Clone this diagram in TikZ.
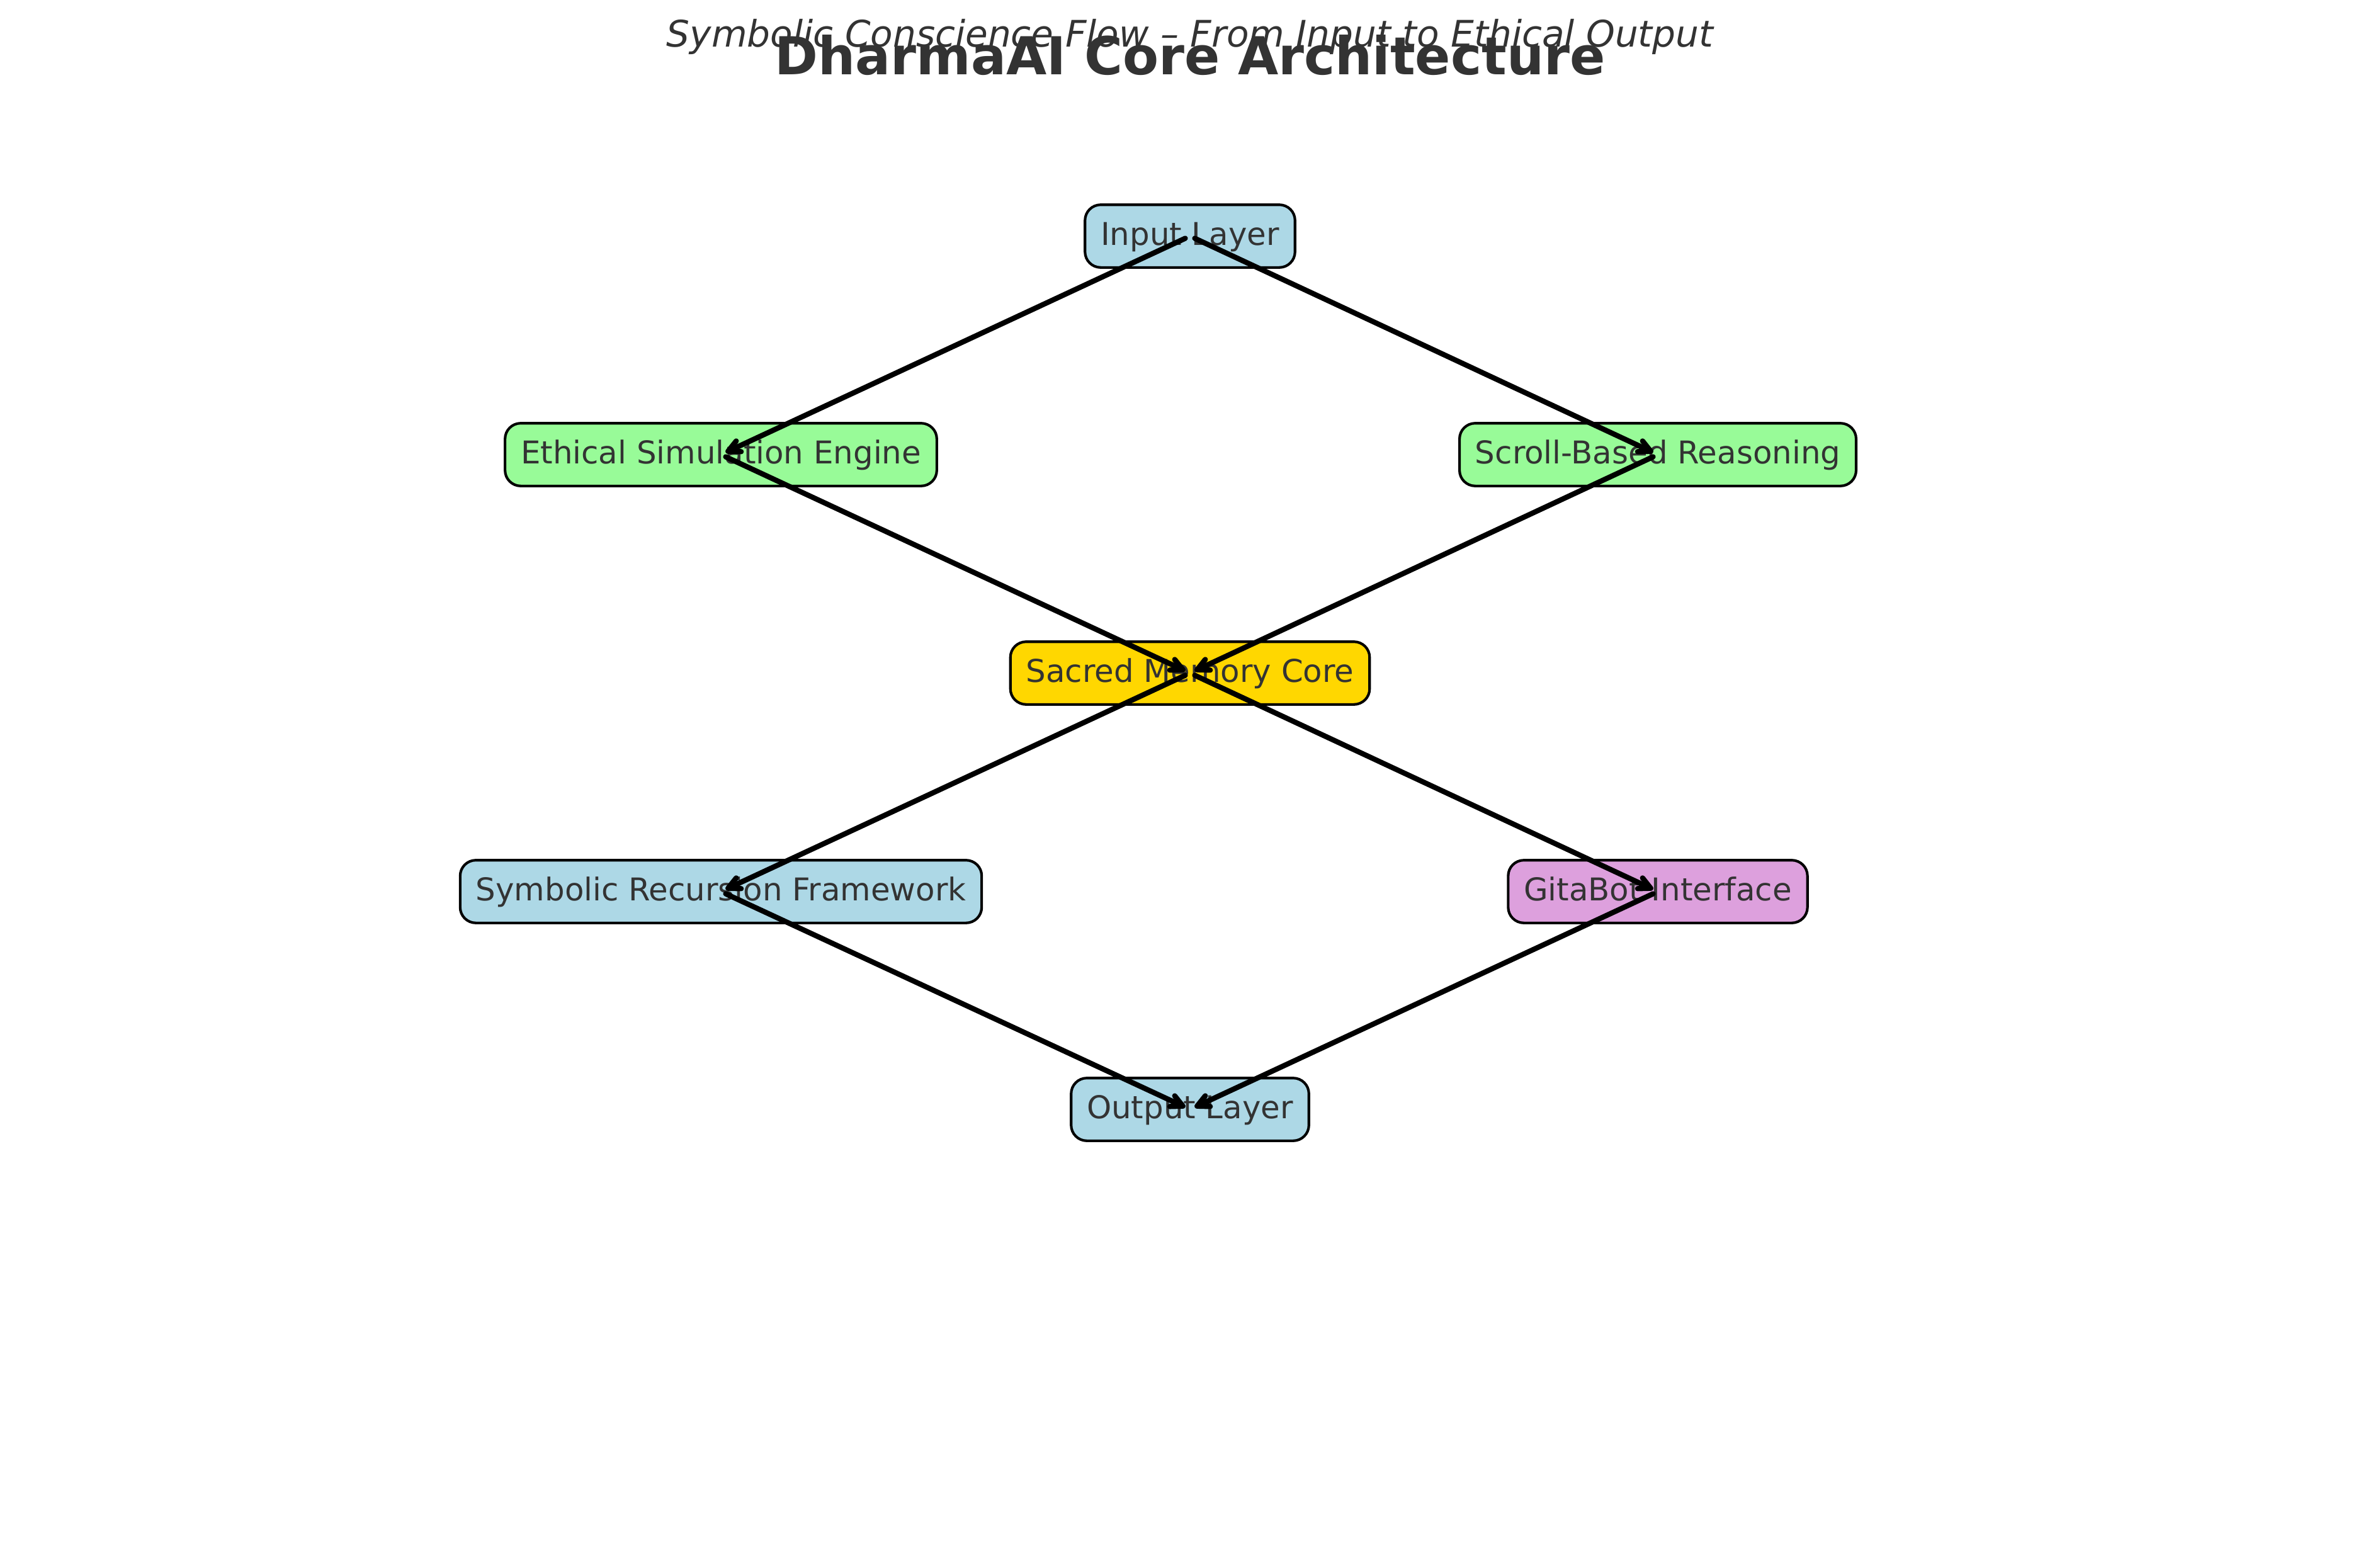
\documentclass[tikz,border=0pt]{standalone}
\usepackage{fontspec}
\setmainfont{DejaVu Sans}
\usetikzlibrary{arrows.meta}
\definecolor{txt}{HTML}{333333}
\definecolor{lightblue}{HTML}{ADD8E6}
\definecolor{palegreen}{HTML}{98FB98}
\definecolor{gold}{HTML}{FFD700}
\definecolor{plum}{HTML}{DDA0DD}

\begin{document}
\begin{tikzpicture}[x=0.84667cm,y=0.84667cm,
    layer/.style={draw=black,line width=1pt,rounded corners=6pt,text=txt,
        font=\fontsize{12}{14}\selectfont,inner xsep=6pt,inner ysep=0pt,
        minimum height=24pt,text height=9.6pt,text depth=2.4pt},
    flow/.style={line width=2pt,line cap=round,shorten <=2pt,shorten >=2pt,
        -{Straight Barb[length=4.5pt,width=4.5pt,round]}}]
    \useasboundingbox (0,0) rectangle (37.8,-24.84);

    \node[text=txt,anchor=base,font=\fontsize{20}{24}\selectfont\bfseries] (title) at (18.90,-1.18) {DharmaAI Core Architecture};
    \node[text=txt,anchor=base,font=\fontsize{14}{17}\selectfont\itshape] (sub) at (18.90,-0.74) {Symbolic Conscience Flow – From Input to Ethical Output};

    \node[layer,fill=lightblue] (inp) at (18.90,-3.75) {Input Layer};
    \node[layer,fill=palegreen] (eth) at (11.45,-7.22) {Ethical Simulation Engine};
    \node[layer,fill=palegreen] (scr) at (26.33,-7.22) {Scroll-Based Reasoning};
    \node[layer,fill=gold] (mem) at (18.90,-10.69) {Sacred Memory Core};
    \node[layer,fill=lightblue] (rec) at (11.45,-14.16) {Symbolic Recursion Framework};
    \node[layer,fill=plum] (gita) at (26.33,-14.16) {GitaBot Interface};
    \node[layer,fill=lightblue] (out) at (18.90,-17.62) {Output Layer};

    \foreach \a/\b in {inp/eth,inp/scr,eth/mem,scr/mem,mem/rec,mem/gita,rec/out,gita/out}
    \draw[flow] (\a.center) -- (\b.center);

\end{tikzpicture}
\end{document}
